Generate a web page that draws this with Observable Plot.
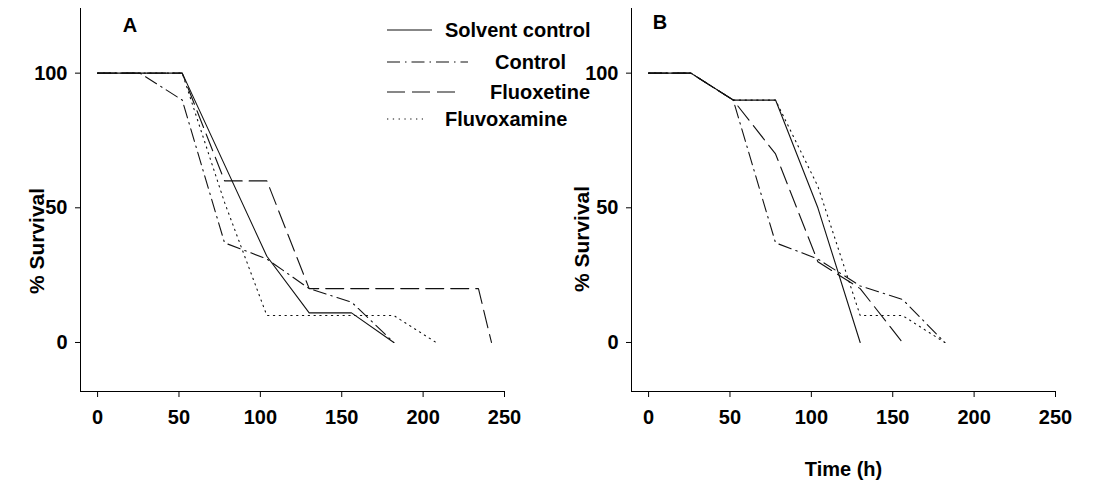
<!DOCTYPE html>
<html><head><meta charset="utf-8">
<script src="https://cdn.jsdelivr.net/npm/d3@7"></script>
<script src="https://cdn.jsdelivr.net/npm/@observablehq/plot@0.6"></script>
<style>
body{margin:0;background:#fff;font-family:"Liberation Sans",Arial,sans-serif;}
#wrap{position:relative;width:1105px;height:484px;overflow:hidden;}
.panel{position:absolute;top:0;}
</style></head><body><div id="wrap"></div>
<script>
// ---- data ----
const seriesNames = ["Solvent control", "Control", "Fluoxetine", "Fluvoxamine"];
const xTicks = [0, 50, 100, 150, 200, 250];
const yTicks = [0, 50, 100];
const yLabel = "% Survival";
const xLabel = "Time (h)";
const panelLetters = ["A", "B"];

// Panel A
const solventA_t = [0, 26, 52, 104, 130, 156, 182];
const solventA_v = [100, 100, 100, 32, 11, 11, 0];
const controlA_t = [0, 26, 52, 78, 104, 130, 156, 182];
const controlA_v = [100, 100, 90, 37, 31, 20, 15, 0];
const fluoxetineA_t = [0, 26, 52, 78, 104, 130, 156, 182, 208, 234, 242];
const fluoxetineA_v = [100, 100, 100, 60, 60, 20, 20, 20, 20, 20, 0];
const fluvoxamineA_t = [0, 26, 52, 78, 104, 130, 156, 182, 208];
const fluvoxamineA_v = [100, 100, 100, 52, 10, 10, 10, 10, 0];

// Panel B
const solventB_t = [0, 26, 52, 78, 104, 130];
const solventB_v = [100, 100, 90, 90, 50, 0];
const controlB_t = [0, 26, 52, 78, 104, 130, 156, 182];
const controlB_v = [100, 100, 90, 37, 31, 21, 16, 0];
const fluoxetineB_t = [0, 26, 52, 78, 104, 130, 156];
const fluoxetineB_v = [100, 100, 90, 70, 30, 20, 0];
const fluvoxamineB_t = [0, 26, 52, 78, 104, 130, 156, 182];
const fluvoxamineB_v = [100, 100, 90, 90, 58, 10, 10, 0];

// ---- styles ----
const dashes = ["none", "13,5,1.5,5", "18,7", "1.3,4.5"];
const FONT = '"Liberation Sans", Arial, sans-serif';

function toRows(t, v) { return t.map((d, i) => ({t: d, v: v[i]})); }

const panelA = [toRows(solventA_t, solventA_v), toRows(controlA_t, controlA_v), toRows(fluoxetineA_t, fluoxetineA_v), toRows(fluvoxamineA_t, fluvoxamineA_v)];
const panelB = [toRows(solventB_t, solventB_v), toRows(controlB_t, controlB_v), toRows(fluoxetineB_t, fluoxetineB_v), toRows(fluvoxamineB_t, fluvoxamineB_v)];

function makePanel(series, width, xlabel) {
  return Plot.plot({
    width, height: 484,
    marginLeft: 80, marginRight: width - 504, marginTop: 8, marginBottom: 93,
    style: {fontFamily: FONT, fontSize: "20px", fontWeight: "bold", color: "#000", background: "transparent", overflow: "visible"},
    x: {domain: [-10.5, 250], ticks: xTicks, tickSize: 6, tickPadding: 12, line: true,
        label: xlabel, labelAnchor: "center", labelOffset: 84, labelArrow: "none"},
    y: {domain: [-18.2, 124], ticks: yTicks, tickSize: 5, tickPadding: 8, line: true, label: null},
    marks: series.map((rows, i) => Plot.line(rows, {x: "t", y: "v", stroke: "#111", strokeWidth: 1.1, strokeDasharray: dashes[i]}))
  });
}

const wrap = document.getElementById("wrap");
const a = makePanel(panelA, 560, null);
a.classList.add("panel"); a.style.left = "0px";
wrap.appendChild(a);
const b = makePanel(panelB, 554, xLabel);
b.classList.add("panel"); b.style.left = "551px";
wrap.appendChild(b);

// overlay: panel letters, y labels, legend
const letterPos = [[130, 25], [660, 22]];
const yLabelPos = [[36, 241], [581, 239]];
const legendLineEnd = [432, 468, 462, 423];
const legendTextX = [445, 495, 490, 445];
const legendY = [30, 62, 92, 119];
const ov = document.createElementNS("http://www.w3.org/2000/svg", "svg");
ov.setAttribute("width", 1105); ov.setAttribute("height", 484);
ov.style.position = "absolute"; ov.style.left = "0px"; ov.style.top = "0px";
let html = "";
panelLetters.forEach((t, i) => {
  html += `<text x="${letterPos[i][0]}" y="${letterPos[i][1]}" dy="0.36em" text-anchor="middle" font-family='${FONT}' font-size="20" font-weight="bold">${t}</text>`;
  html += `<text transform="translate(${yLabelPos[i][0]},${yLabelPos[i][1]}) rotate(-90)" dy="0.36em" text-anchor="middle" font-family='${FONT}' font-size="21" font-weight="bold">${yLabel}</text>`;
});
html += seriesNames.map((s, i) =>
  `<line x1="387" x2="${legendLineEnd[i]}" y1="${legendY[i]}" y2="${legendY[i]}" stroke="#111" stroke-width="1.1" ${dashes[i] === "none" ? "" : `stroke-dasharray="${dashes[i]}"`}/>` +
  `<text x="${legendTextX[i]}" y="${legendY[i]}" dy="0.36em" font-family='${FONT}' font-size="20" font-weight="bold" fill="#000">${s}</text>`
).join("");
ov.innerHTML = html;
wrap.appendChild(ov);
</script>
</body></html>
